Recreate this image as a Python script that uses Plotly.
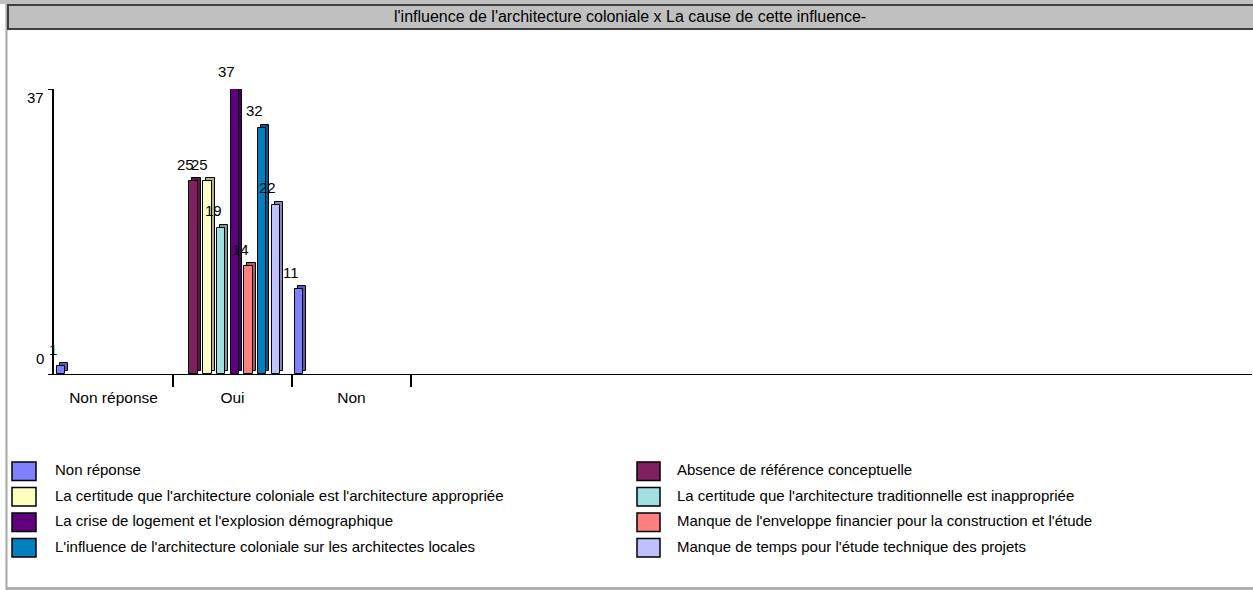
import plotly.graph_objects as go

# ---- data -------------------------------------------------------------
categories = ["Non réponse", "Oui", "Non"]

series_names = [
    "Non réponse",
    "Absence de référence conceptuelle",
    "La certitude que l'architecture coloniale est l'architecture appropriée",
    "La certitude que l'architecture traditionnelle est inappropriée",
    "La crise de logement et l'explosion démographique",
    "Manque de l'enveloppe financier pour la construction et l'étude",
    "L'influence de l'architecture coloniale sur les architectes locales",
    "Manque de temps pour l'étude technique des projets",
]

non_reponse = [1, 0, 11]
absence_reference = [0, 25, 0]
certitude_coloniale = [0, 25, 0]
certitude_traditionnelle = [0, 19, 0]
crise_logement = [0, 37, 0]
manque_enveloppe = [0, 14, 0]
influence_architectes = [0, 32, 0]
manque_temps = [0, 22, 0]

series_values = [
    non_reponse, absence_reference, certitude_coloniale, certitude_traditionnelle,
    crise_logement, manque_enveloppe, influence_architectes, manque_temps,
]

colors = ["#8080FF", "#802060", "#FFFFC0", "#A0E0E0",
          "#600080", "#FF8080", "#0080C0", "#C0C0FF"]
side_colors = ["#5A5AB4", "#5A1643", "#B4B487", "#70A0A0",
               "#44005A", "#B45A5A", "#005A87", "#8787B4"]

y_max = 37
y_ticks = [0, 37]

# ---- geometry (pixels) -------------------------------------------------
W, H = 1253, 590
FONT = "Liberation Sans, Arial, sans-serif"
plot_left, plot_right = 54, 1252
plot_top, plot_bottom = 89, 374
cat_px = 119.0                      # width of one category slot
x_max = (plot_right - plot_left) / cat_px
px_per_unit_y = (plot_bottom - plot_top) / y_max

bar_px = 8.5                        # front face width
step_px = 13.7                      # spacing between series
lead_px = 2.7                       # gap before first series in a slot
depth_px = 3.0                      # pseudo-3D depth

bar_w = bar_px / cat_px
depth_x = depth_px / cat_px
depth_y = depth_px / px_per_unit_y

fig = go.Figure()
labels = []

for s, (name, vals) in enumerate(zip(series_names, series_values)):
    xs, ys = [], []
    for k, v in enumerate(vals):
        if v:
            xs.append(k + (lead_px + step_px * s + bar_px / 2) / cat_px)
            ys.append(v)
    # back face (gives the side / top depth)
    fig.add_trace(go.Bar(
        x=[x + depth_x for x in xs], y=ys, base=[depth_y] * len(ys),
        width=bar_w, marker=dict(color=side_colors[s], line=dict(color="#000000", width=1)),
        showlegend=False, hoverinfo="skip",
    ))
    # front face
    fig.add_trace(go.Bar(
        x=xs, y=ys, width=bar_w, name=name,
        marker=dict(color=colors[s], line=dict(color="#000000", width=1)),
        showlegend=False,
    ))
    for x, v in zip(xs, ys):
        labels.append(dict(x=x, y=v, text=str(v)))

annotations = []
for lab in labels:
    annotations.append(dict(
        x=lab["x"], y=lab["y"], xref="x", yref="y", text=lab["text"],
        showarrow=False, xanchor="center", yanchor="middle",
        xshift=-8, yshift=17, font=dict(family=FONT, size=15, color="#000000"),
    ))

# y tick labels sit just inside the axis range
annotations.append(dict(x=0, y=y_ticks[0], xref="x", yref="y", text=str(y_ticks[0]),
                        showarrow=False, xanchor="right", yanchor="middle",
                        xshift=-8, yshift=16, font=dict(family=FONT, size=15, color="#000000")))
annotations.append(dict(x=0, y=y_ticks[1], xref="x", yref="y", text=str(y_ticks[1]),
                        showarrow=False, xanchor="right", yanchor="middle",
                        xshift=-8, yshift=-9, font=dict(family=FONT, size=15, color="#000000")))

# title
annotations.append(dict(
    x=(7 + W) / 2 / W, y=1 - 16.5 / H, xref="paper", yref="paper",
    text="l'influence de l'architecture coloniale x La cause de cette influence-",
    showarrow=False, xanchor="center", yanchor="middle",
    font=dict(family=FONT, size=16, color="#000000"),
))

shapes = [
    # outer frame
    dict(type="rect", xref="paper", yref="paper", x0=0, x1=1, y0=1 - 4 / H, y1=1,
         fillcolor="#C0C0C0", line=dict(width=0), layer="below"),
    dict(type="line", xref="paper", yref="paper", x0=6.5 / W, x1=6.5 / W, y0=0, y1=1 - 4 / H,
         line=dict(color="#A8A8A8", width=2)),
    dict(type="line", xref="paper", yref="paper", x0=6.5 / W, x1=1, y0=1.5 / H, y1=1.5 / H,
         line=dict(color="#B0B0B0", width=3)),
    # title bar
    dict(type="rect", xref="paper", yref="paper", x0=8 / W, x1=1 + 2 / W,
         y0=1 - 29 / H, y1=1 - 5 / H, fillcolor="#C0C0C0",
         line=dict(color="#404040", width=2)),
]

# legend: two columns, filled row by row
legend_cols = [(12, 36, 53), (637, 660, 675)]
legend_rows = [462, 487.5, 513, 538.5]
sw_h = 18.5
for i, name in enumerate(series_names):
    c0, c1, tx = legend_cols[i % 2]
    top = legend_rows[i // 2]
    shapes.append(dict(type="rect", xref="paper", yref="paper",
                       x0=c0 / W, x1=c1 / W, y0=1 - (top + sw_h) / H, y1=1 - top / H,
                       fillcolor=colors[i], line=dict(color="#000000", width=1.5)))
    annotations.append(dict(x=tx / W, y=1 - (top + sw_h / 2 - 1.5) / H,
                            xref="paper", yref="paper", text=name, showarrow=False,
                            xanchor="left", yanchor="middle",
                            font=dict(family=FONT, size=15, color="#000000")))

fig.update_layout(
    width=W, height=H, margin=dict(l=0, r=0, t=0, b=0),
    paper_bgcolor="#FFFFFF", plot_bgcolor="#FFFFFF",
    barmode="overlay", bargap=0,
    showlegend=False,
    font=dict(family=FONT, size=15, color="#000000"),
    xaxis=dict(
        domain=[plot_left / W, plot_right / W], range=[0, x_max],
        showgrid=False, zeroline=False, showline=True, linecolor="#000000", linewidth=1,
        tickmode="array", tickvals=[k + 0.5 for k in range(len(categories))],
        ticktext=categories, ticks="", ticklabelstandoff=9,
        tickfont=dict(family=FONT, size=15.5, color="#000000"),
        minor=dict(tickmode="array", tickvals=[1, 2, 3], ticks="outside",
                   ticklen=12, tickwidth=1.5, tickcolor="#000000"),
        fixedrange=True,
    ),
    yaxis=dict(
        domain=[1 - plot_bottom / H, 1 - plot_top / H], range=[0, y_max],
        showgrid=False, zeroline=False, showline=True, linecolor="#000000", linewidth=1.5,
        tickmode="array", tickvals=y_ticks, ticktext=["", ""],
        ticks="outside", ticklen=4, tickcolor="#000000",
        fixedrange=True,
    ),
    shapes=shapes, annotations=annotations,
)

fig.write_html("out.html")
